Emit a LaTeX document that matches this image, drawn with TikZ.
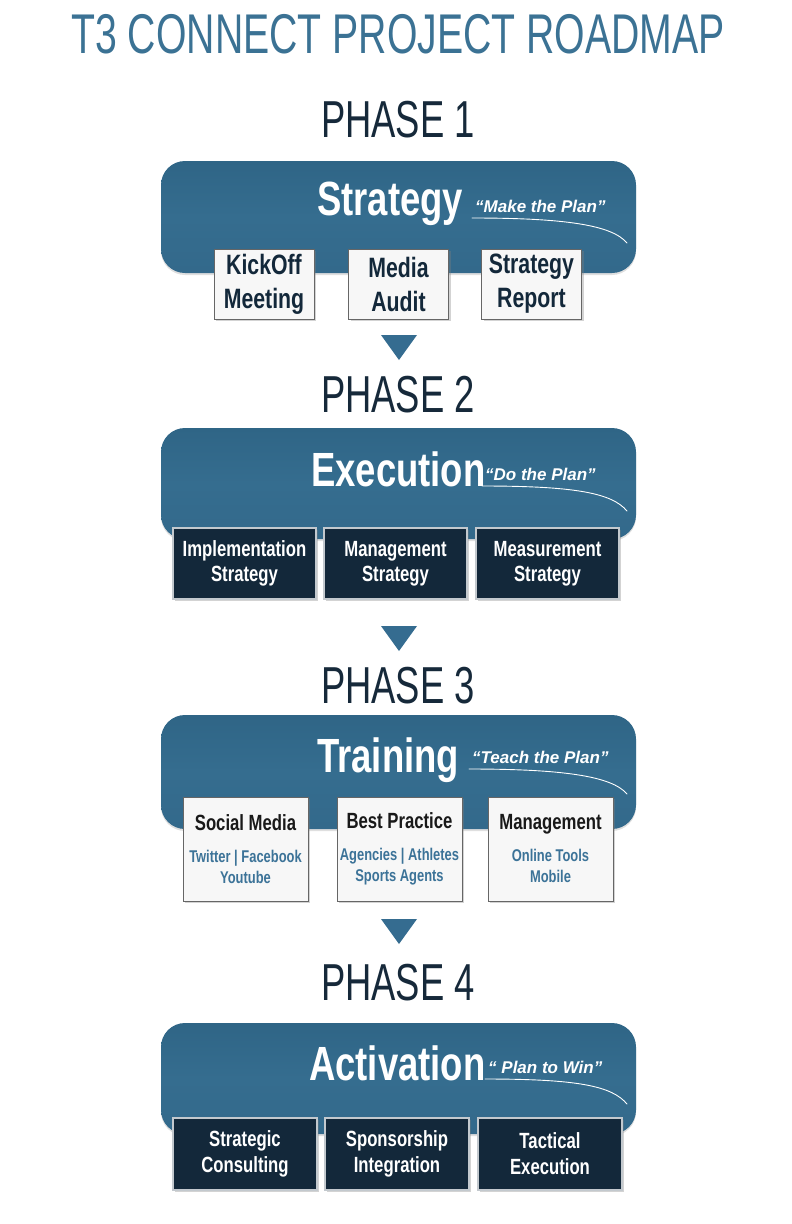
\documentclass[tikz,border=0pt]{standalone}
\usepackage{fontspec}
\usepackage{tikz}
\usetikzlibrary{calc}
\usetikzlibrary{shadows}
\newfontfamily\condfont[FakeStretch=0.70]{Liberation Sans}
\newfontfamily\boldfont[FakeStretch=0.76]{Liberation Sans}
\newfontfamily\quotefont{Liberation Sans}
\definecolor{titleblue}{HTML}{3B7294}
\definecolor{navy}{HTML}{16293A}
\definecolor{bandtop}{HTML}{2F6586}
\definecolor{bandmid}{HTML}{356D8F}
\definecolor{bandbot}{HTML}{33698B}
\definecolor{darkbox}{HTML}{13283A}
\definecolor{boxedge}{HTML}{C3C9CE}
\definecolor{subblue}{HTML}{3C7398}
\definecolor{arrowblue}{HTML}{356C90}
\tikzset{%
  myband/.style={rounded corners=24pt, minimum width=475pt, top color=bandtop, bottom color=bandbot, middle color=bandmid, drop shadow={opacity=0.25, shadow xshift=0pt, shadow yshift=-2pt}},
  mywhite/.style={draw=black!60, line width=0.8pt, fill=white!97!black, inner sep=0pt, align=center, drop shadow={opacity=0.35, shadow xshift=2pt, shadow yshift=-2pt}},
  mydark/.style={draw=boxedge, line width=1.2pt, fill=darkbox, text=white, inner sep=0pt, align=center, drop shadow={opacity=0.35, shadow xshift=2pt, shadow yshift=-2pt}},
  myphase/.style={text=navy, font=\condfont\fontsize{52}{52}\selectfont, anchor=base},
  mytitle/.style={text=white, font=\boldfont\bfseries\fontsize{48}{48}\selectfont, anchor=base west, inner sep=0pt},
  myquote/.style={text=white, font=\quotefont\bfseries\itshape\fontsize{17}{17}\selectfont, anchor=base west, inner sep=0pt},
  myswoosh/.style={white, line width=0.9pt, line cap=round}
}

\begin{document}
\begin{tikzpicture}[x=1pt, y=-1pt]
  \tikzset{myarrow/.style={fill=arrowblue}};
  \useasboundingbox (0,0) rectangle (792,1224);

\node [text=titleblue, font=\condfont\fontsize{56}{56}\selectfont, anchor=base] (title) at (398,53) {T3 CONNECT PROJECT ROADMAP};

\foreach \n / \py / \by / \bh in {1/137/217/112, 2/412/483.5/111, 3/703/772/114, 4/1000/1078.5/111} {
  \node [myphase] (P\n) at (398,\py) {PHASE \n};
  \node [myband, minimum height=\bh pt] (B\n) at (398.5,\by) {};
}

% band titles
\foreach \n / \tx / \ty / \tt / \qx / \qy / \qq in {1/317/215/Strategy/475/212/{“Make the Plan”}, 2/311/486/Execution/485/480/{“Do the Plan”}, 3/317/772/Training/472/763/{“Teach the Plan”}, 4/309/1080/Activation/488/1073/{“ Plan to Win”}}{
  \node [mytitle] (T\n) at (\tx,\ty) {\tt};
  \node [myquote] (Q\n) at (\qx,\qy) {\qq};
  \draw [myswoosh] (\qx-3,\qy+6) .. controls (\qx+90,\qy+6) and (612,\qy+13) .. (627,\qy+31);
}

\foreach \y in {335, 626, 919} {
  \fill [myarrow] (381,\y) -- (417,\y) -- (399,\y+25) -- cycle;
}

% phase 1
\foreach \n / \x / \txt in {1/264/{KickOff\\Meeting}, 2/398.5/{Media\\Audit}, 3/531.5/{Strategy\\Report}}{
  \node [mywhite, minimum width=100pt, minimum height=70pt, text=darkbox, font=\boldfont\bfseries\fontsize{28}{34}\selectfont] (S\n) at (\x,284) {\txt};
}

% phase 2
\foreach \n / \x / \txt in {1/244.5/{Implementation\\Strategy}, 2/395.5/{Management\\Strategy}, 3/547.5/{Measurement\\Strategy}}{
  \node [mydark, minimum width=143pt, minimum height=71pt, font=\boldfont\bfseries\fontsize{22}{25}\selectfont] (E\n) at (\x,563.5) {\txt};
}

% phase 3
\foreach \n / \x / \tt / \sa / \sb in {1/245.5/Social Media/Twitter | Facebook/Youtube, 2/399.5/Best Practice/Agencies | Athletes/Sports Agents, 3/550.5/Management/Online Tools/Mobile}{
  \node [mywhite, minimum width=125pt, minimum height=104pt, font=\boldfont\bfseries\fontsize{17}{21}\selectfont] (R\n) at (\x,849)
    {{\fontsize{22}{26}\selectfont\color{black!90}\tt}\\[11pt]{\color{subblue}\sa}\\{\color{subblue}\sb}};
}

% phase 4
\foreach \n / \x / \txt in {1/245/{Strategic\\Consulting}, 2/397/{Sponsorship\\Integration}, 3/550/{Tactical\\Execution}}{
  \node [mydark, minimum width=144pt, minimum height=72pt, font=\boldfont\bfseries\fontsize{22}{26}\selectfont] (A\n) at (\x,1154) {\txt};
}

\end{tikzpicture}
\end{document}
